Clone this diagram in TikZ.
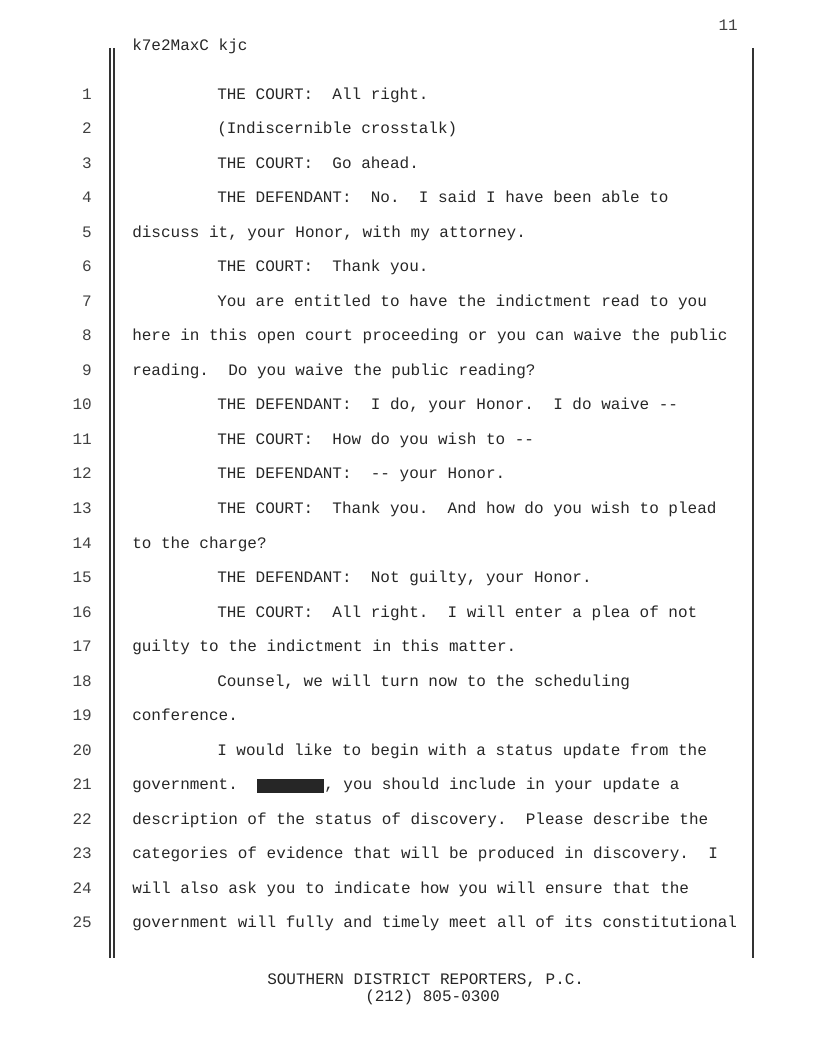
\documentclass[tikz,border=0pt]{standalone}
\usepackage{fontspec}
\setmonofont{Liberation Mono}
\usetikzlibrary{positioning}
\tikzset{
  txt/.style={anchor=base west,inner sep=0pt,text=black!85,
    font=\ttfamily\fontsize{12pt}{14pt}\selectfont},
  num/.style={txt,anchor=base east,text=black!75},
  rule/.style={line width=0.8pt,black!80}
}
\newcommand{\redact}{\rule[-2.3pt]{50.4pt}{10.5pt}}
\frenchspacing
\begin{document}
\begin{tikzpicture}[x=0.75pt,y=-0.75pt]
      \useasboundingbox (0,0) rectangle (816,1056);
      % margin rules
      \coordinate (la-t) at (110,48);  \coordinate (la-b) at (110,958);
      \coordinate (lb-t) at (114,48);  \coordinate (lb-b) at (114,958);
      \coordinate (r-t)  at (753,48);  \coordinate (r-b)  at (753,958);
      \draw[rule] (la-t) -- (la-b);
      \draw[rule] (lb-t) -- (lb-b);
      \draw[rule] (r-t) -- (r-b);
      % text columns
      \coordinate (mar) at (132,0);
      \coordinate (ind) at (217,0);
      \node[num] (pg)  at (738,31) {11};
      \node[txt] (hdr) at (132,51) {k7e2MaxC kjc};
      \foreach \n in {1,...,25}
        \node[num] (n\n) at (92,{99+(\n-1)*34.54}) {\n};
      \node[txt] (t1)  at (ind |- n1.base)  {THE COURT:~~All right.};
      \node[txt] (t2)  at (ind |- n2.base)  {(Indiscernible crosstalk)};
      \node[txt] (t3)  at (ind |- n3.base)  {THE COURT:~~Go ahead.};
      \node[txt] (t4)  at (ind |- n4.base)  {THE DEFENDANT:~~No.~~I said I have been able to};
      \node[txt] (t5)  at (mar |- n5.base)  {discuss it, your Honor, with my attorney.};
      \node[txt] (t6)  at (ind |- n6.base)  {THE COURT:~~Thank you.};
      \node[txt] (t7)  at (ind |- n7.base)  {You are entitled to have the indictment read to you};
      \node[txt] (t8)  at (mar |- n8.base)  {here in this open court proceeding or you can waive the public};
      \node[txt] (t9)  at (mar |- n9.base)  {reading.~~Do you waive the public reading?};
      \node[txt] (t10) at (ind |- n10.base) {THE DEFENDANT:~~I do, your Honor.~~I do waive --};
      \node[txt] (t11) at (ind |- n11.base) {THE COURT:~~How do you wish to --};
      \node[txt] (t12) at (ind |- n12.base) {THE DEFENDANT:~~-- your Honor.};
      \node[txt] (t13) at (ind |- n13.base) {THE COURT:~~Thank you.~~And how do you wish to plead};
      \node[txt] (t14) at (mar |- n14.base) {to the charge?};
      \node[txt] (t15) at (ind |- n15.base) {THE DEFENDANT:~~Not guilty, your Honor.};
      \node[txt] (t16) at (ind |- n16.base) {THE COURT:~~All right.~~I will enter a plea of not};
      \node[txt] (t17) at (mar |- n17.base) {guilty to the indictment in this matter.};
      \node[txt] (t18) at (ind |- n18.base) {Counsel, we will turn now to the scheduling};
      \node[txt] (t19) at (mar |- n19.base) {conference.};
      \node[txt] (t20) at (ind |- n20.base) {I would like to begin with a status update from the};
      \node[txt] (t21) at (mar |- n21.base) {government.~~\redact, you should include in your update a};
      \node[txt] (t22) at (mar |- n22.base) {description of the status of discovery.~~Please describe the};
      \node[txt] (t23) at (mar |- n23.base) {categories of evidence that will be produced in discovery.~~I};
      \node[txt] (t24) at (mar |- n24.base) {will also ask you to indicate how you will ensure that the};
      \node[txt] (t25) at (mar |- n25.base) {government will fully and timely meet all of its constitutional};
      % footer
      \node[txt] (ft1) at (267,984)  {SOUTHERN DISTRICT REPORTERS, P.C.};
      \node[txt] (ft2) at (365,1001) {(212) 805-0300};
    \end{tikzpicture}
\end{document}
